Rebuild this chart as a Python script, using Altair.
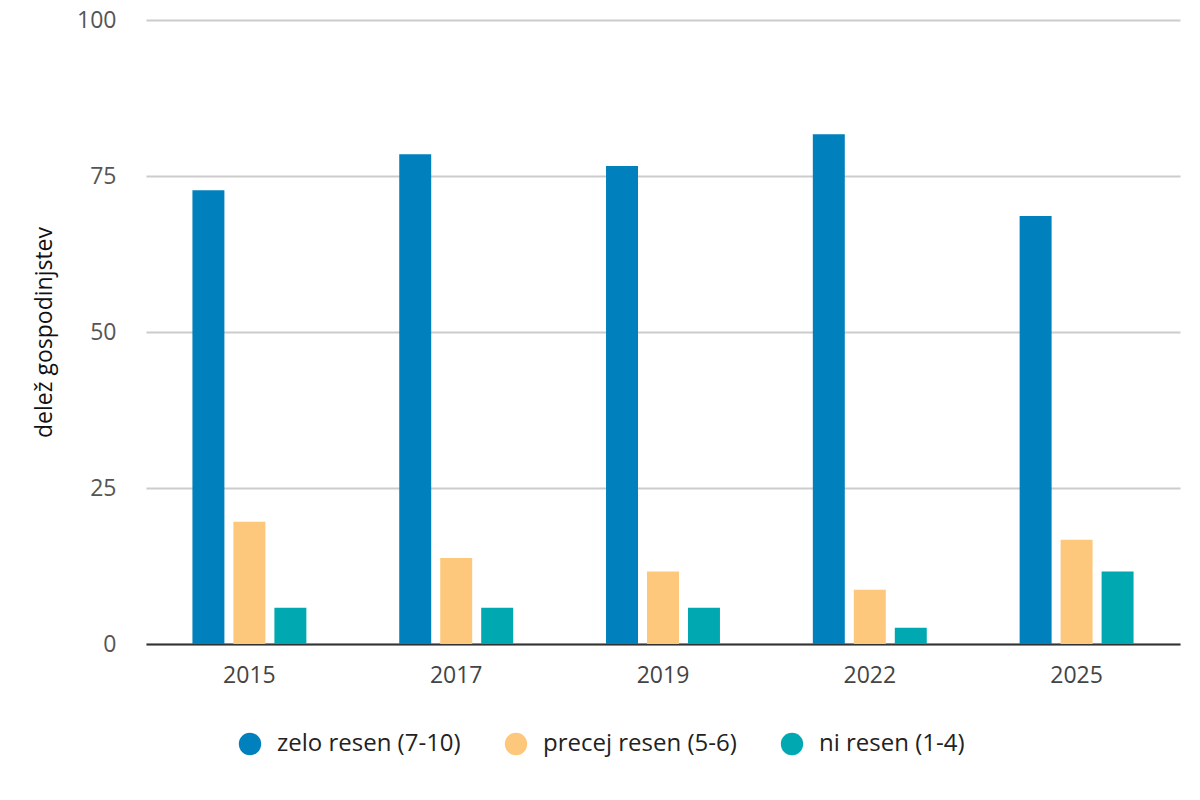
import altair as alt
import pandas as pd

years = ["2015", "2017", "2019", "2022", "2025"]
series = ["zelo resen (7-10)", "precej resen (5-6)", "ni resen (1-4)"]
zelo = [72.7, 78.5, 76.6, 81.7, 68.6]
precej = [19.6, 13.8, 11.6, 8.7, 16.7]
ni = [5.8, 5.8, 5.8, 2.6, 11.6]
colors = ["#0080bc", "#fdc77c", "#00a9b1"]

rows = []
for i, y in enumerate(years):
    for s, vals in zip(series, [zelo, precej, ni]):
        rows.append({"leto": y, "skupina": s, "vrednost": vals[i]})
df = pd.DataFrame(rows)

font = "Open Sans"

chart = alt.Chart(df).mark_bar().encode(
    x=alt.X("leto:N", sort=years, title=None,
            scale=alt.Scale(paddingInner=0.449, paddingOuter=0.2245),
            axis=alt.Axis(labelAngle=0, labelFontSize=23, labelColor="#444",
                          labelFont=font, domainColor="#333", domainWidth=2,
                          ticks=False, labelPadding=20)),
    xOffset=alt.XOffset("skupina:N", sort=series,
                        scale=alt.Scale(paddingInner=0.22, paddingOuter=0)),
    y=alt.Y("vrednost:Q", title="delež gospodinjstev",
            scale=alt.Scale(domain=[0, 100]),
            axis=alt.Axis(values=[0, 25, 50, 75, 100], labelFontSize=23,
                          labelColor="#555", labelFont=font, domain=False,
                          ticks=False, labelPadding=30, gridColor="#cccccc",
                          gridWidth=2, titleFont=font, titleFontSize=23,
                          titleFontWeight="normal", titleColor="#111",
                          titlePadding=20)),
    color=alt.Color("skupina:N", sort=series,
                    scale=alt.Scale(domain=series, range=colors),
                    legend=alt.Legend(orient="none", legendX=92, legendY=712,
                                      direction="horizontal",
                                      title=None, symbolType="circle",
                                      symbolSize=500, symbolStrokeWidth=0,
                                      labelFontSize=24, labelFont=font,
                                      labelColor="#222", labelLimit=0,
                                      columnPadding=43,
                                      symbolOffset=0, labelOffset=15)),
).properties(
    width=1034, height=624,
    autosize=alt.AutoSizeParams(type="none"),
    padding={"left": 138, "top": 12, "right": 12, "bottom": 150},
).configure_view(stroke=None)

chart.save("out.html", embed_options={"renderer": "svg", "actions": False})
